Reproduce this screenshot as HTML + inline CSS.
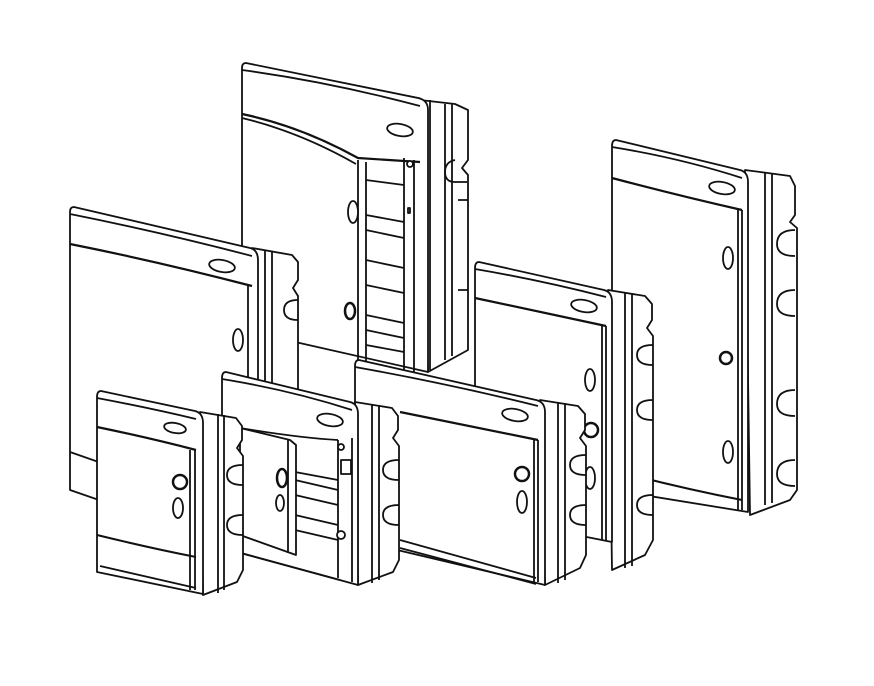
<!DOCTYPE html>
<html><head><meta charset="utf-8"><style>
html,body{margin:0;padding:0;background:#fff;}
svg{display:block}
</style></head><body>
<svg width="874" height="686" viewBox="0 0 874 686" xmlns="http://www.w3.org/2000/svg" fill="#fff" stroke="#111" stroke-width="1.8" stroke-linejoin="round">

<!-- BOX 2: tall center (open door) -->
<g>
  <path d="M420,100 L455,104 L468,110 L468,160 L462,168 L468,175 L468,350 L428,372 Z"/>
  <path d="M430,100 L430,370 M445,104 L445,360 M452,104 L452,356"/>
  <path d="M455,160 q-10,2 -10,12 q0,10 10,10 l12,0" fill="none"/>
  <path d="M458,200 l10,0 M458,290 l10,0" fill="none"/>
  <path d="M246,63 L418,98 Q428,100 428,110 L428,372 L242,330 L242,68 Q242,63 246,63 Z"/>
  <path d="M242,70 Q330,82 420,106" fill="none"/>
  <path d="M330,80 L420,98" fill="none" stroke-width="1"/>
  <path d="M242,114 Q300,126 358,158 L420,162" fill="none" stroke-width="2.2"/>
  <path d="M242,118 Q300,132 356,164" fill="none"/>
  <path d="M358,160 L358,365 M366,162 L366,368 M404,158 L404,370 M414,160 L414,372" fill="none"/>
  <path d="M366,180 L404,185 M366,215 L404,222 M366,230 L404,238 M366,260 L404,268 M366,285 L404,293 M366,315 L404,323 M366,330 L404,338 M366,345 L404,352" fill="none"/>
  <ellipse cx="400" cy="130" rx="13" ry="6" transform="rotate(10 400 130)"/>
  <ellipse cx="353" cy="212" rx="5" ry="11"/>
  <ellipse cx="350" cy="311" rx="5" ry="8" stroke-width="2.5"/>
  <circle cx="410" cy="164" r="3"/>
  <rect x="408" y="208" width="2" height="5"/>
</g>

<!-- BOX 3: right tall -->
<g>
  <path d="M745,170 L790,176 L795,186 L795,215 L790,222 L797,228 L797,490 L790,500 L750,515 Z"/>
  <path d="M765,172 L765,505 M772,173 L772,503"/>
  <path d="M795,230 q-18,0 -18,14 q0,12 18,12 M795,290 q-18,0 -18,14 q0,12 18,12 M795,390 q-18,0 -18,14 q0,12 18,12 M795,460 q-18,0 -18,14 q0,12 18,12" fill="none"/>
  <path d="M616,140 L740,170 Q748,172 748,182 L748,512 L612,490 L612,146 Q612,140 616,140 Z"/>
  <path d="M612,147 Q680,158 742,178" fill="none"/>
  <path d="M612,178 Q680,196 742,210" fill="none" stroke-width="2.2"/>
  <path d="M738,210 L738,510 M742,210 L742,510" fill="none"/>
  <path d="M612,470 Q680,488 742,500" fill="none" stroke-width="2"/>
  <ellipse cx="722" cy="188" rx="13" ry="6" transform="rotate(10 722 188)"/>
  <ellipse cx="728" cy="258" rx="5" ry="11"/>
  <ellipse cx="728" cy="452" rx="5" ry="11"/>
  <circle cx="726" cy="358" r="6" stroke-width="2.5"/>
</g>

<!-- BOX 1: big left -->
<g>
  <path d="M252,248 L292,255 L298,262 L298,280 L293,288 L298,296 L298,520 L258,555 Z"/>
  <path d="M265,250 L265,550 M272,251 L272,545"/>
  <path d="M298,300 q-14,0 -14,10 q0,10 14,10" fill="none"/>
  <path d="M74,207 L250,248 Q258,250 258,260 L258,555 L70,490 L70,212 Q70,207 74,207 Z"/>
  <path d="M70,214 Q160,232 252,256" fill="none"/>
  <path d="M70,244 Q160,262 252,286" fill="none" stroke-width="2.2"/>
  <path d="M248,286 L248,550" fill="none"/>
  <path d="M70,452 L250,515" fill="none"/>
  <ellipse cx="222" cy="266" rx="13" ry="6" transform="rotate(10 222 266)"/>
  <ellipse cx="238" cy="340" rx="5" ry="11"/>
</g>

<!-- BOX 4: middle right -->
<g>
  <path d="M608,290 L645,296 L652,304 L652,320 L647,328 L653,336 L653,540 L645,555 L612,570 Z"/>
  <path d="M625,292 L625,568 M632,293 L632,566"/>
  <path d="M653,345 q-16,0 -16,10 q0,10 16,10 M653,400 q-16,0 -16,10 q0,10 16,10 M653,495 q-16,0 -16,10 q0,10 16,10" fill="none"/>
  <path d="M479,262 L604,290 Q612,292 612,302 L612,542 L475,515 L475,268 Q475,262 479,262 Z"/>
  <path d="M475,269 Q540,280 606,297" fill="none"/>
  <path d="M475,298 Q540,312 606,326" fill="none" stroke-width="2.2"/>
  <path d="M602,326 L602,540 M606,326 L606,540" fill="none"/>
  <ellipse cx="584" cy="306" rx="13" ry="6" transform="rotate(10 584 306)"/>
  <ellipse cx="590" cy="380" rx="5" ry="11"/>
  <ellipse cx="590" cy="478" rx="5" ry="11"/>
  <circle cx="591" cy="430" r="7" stroke-width="2.5"/>
</g>

<!-- BOX 7: wide middle -->
<g>
  <path d="M540,400 L578,406 L585,414 L585,430 L580,438 L586,446 L586,555 L580,568 L545,585 Z"/>
  <path d="M558,402 L558,583 M565,403 L565,580"/>
  <path d="M586,455 q-16,0 -16,10 q0,10 16,10 M586,505 q-16,0 -16,10 q0,10 16,10" fill="none"/>
  <path d="M359,360 L536,400 Q545,402 545,412 L545,585 L355,540 L355,366 Q355,360 359,360 Z"/>
  <path d="M355,367 Q450,384 538,406" fill="none"/>
  <path d="M400,412 Q470,426 538,440" fill="none" stroke-width="2.2"/>
  <path d="M534,440 L534,582 M538,440 L538,582" fill="none"/>
  <path d="M400,540 L536,578 M400,548 L536,584" fill="none"/>
  <ellipse cx="515" cy="415" rx="13" ry="6" transform="rotate(10 515 415)"/>
  <circle cx="522" cy="474" r="7" stroke-width="2.5"/>
  <ellipse cx="522" cy="502" rx="5" ry="11"/>
</g>

<!-- BOX 6: small middle (open) -->
<g>
  <path d="M355,402 L392,408 L398,416 L398,430 L393,438 L399,446 L399,560 L393,572 L358,585 Z"/>
  <path d="M372,404 L372,583 M379,405 L379,580"/>
  <path d="M399,460 q-16,0 -16,10 q0,10 16,10 M399,505 q-16,0 -16,10 q0,10 16,10" fill="none"/>
  <path d="M226,372 L350,402 Q358,404 358,414 L358,585 L222,548 L222,378 Q222,372 226,372 Z"/>
  <path d="M222,379 Q290,390 352,410" fill="none"/>
  <path d="M240,428 Q300,438 338,440" fill="none"/>
  <path d="M338,440 L338,578 M352,438 L352,582" fill="none"/>
  <path d="M295,472 L338,480 M295,480 L338,490 M295,495 L338,505 M295,515 L338,525 M295,530 L338,540" fill="none"/>
  <path d="M230,550 L340,580" fill="none"/>
  <ellipse cx="330" cy="420" rx="13" ry="6" transform="rotate(10 330 420)"/>
  <rect x="341" y="460" width="10" height="14"/>
  <circle cx="341" cy="447" r="3"/>
  <circle cx="341" cy="535" r="4"/>
  <path d="M240,428 L290,440 L296,445 L296,555 L240,535 Z"/>
  <path d="M288,440 L288,553" fill="none"/>
  <ellipse cx="282" cy="478" rx="5" ry="9" stroke-width="2.5"/>
  <ellipse cx="280" cy="503" rx="4" ry="8"/>
</g>

<!-- BOX 5: small left -->
<g>
  <path d="M200,412 L236,418 L242,426 L242,440 L237,448 L243,456 L243,570 L237,582 L203,595 Z"/>
  <path d="M218,414 L218,593 M224,415 L224,590"/>
  <path d="M243,465 q-16,0 -16,10 q0,10 16,10 M243,515 q-16,0 -16,10 q0,10 16,10" fill="none"/>
  <path d="M101,391 L195,411 Q203,413 203,423 L203,594 L97,572 L97,397 Q97,391 101,391 Z"/>
  <path d="M97,398 Q150,408 196,419" fill="none"/>
  <path d="M97,427 Q150,438 196,450" fill="none" stroke-width="2.2"/>
  <path d="M190,450 L190,590 M195,450 L195,590" fill="none"/>
  <path d="M97,535 Q150,548 196,557" fill="none" stroke-width="2"/>
  <path d="M100,566 L196,588" fill="none"/>
  <ellipse cx="175" cy="428" rx="11" ry="5" transform="rotate(10 175 428)"/>
  <circle cx="180" cy="482" r="7" stroke-width="2.5"/>
  <ellipse cx="178" cy="508" rx="5" ry="10"/>
</g>
</svg>
</body></html>
